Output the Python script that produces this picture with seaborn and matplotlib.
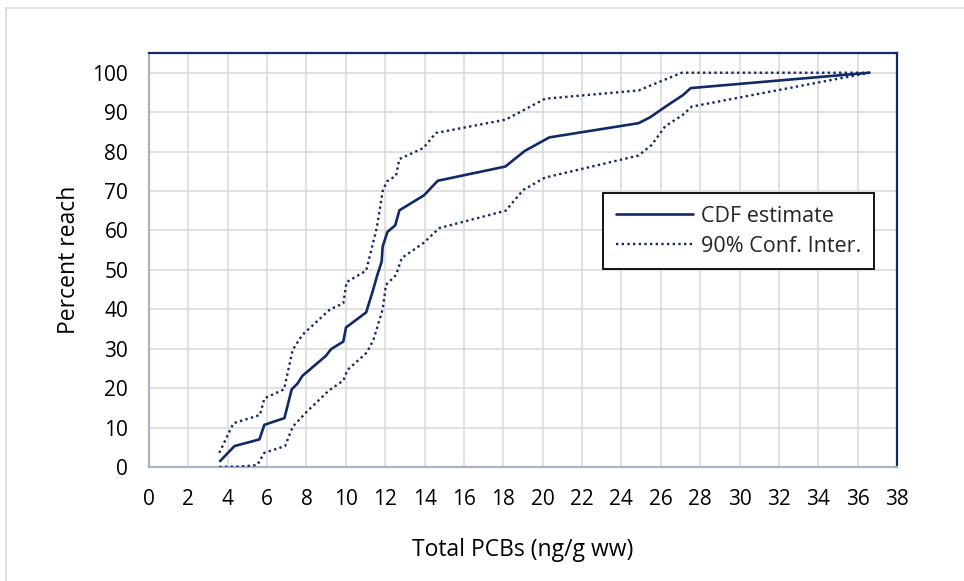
import matplotlib
matplotlib.use("Agg")
import matplotlib.pyplot as plt
import seaborn as sns
import pandas as pd
from matplotlib.lines import Line2D

# ---- data ----
cdf_x = [3.61, 4.34, 5.61, 5.86, 6.88, 7.25, 7.55, 7.79, 8.99, 9.25, 9.87, 10.01,
         11.03, 11.36, 11.6, 11.82, 11.87, 12.11, 12.51, 12.72, 13.97, 14.67,
         18.1, 19.1, 20.34, 24.87, 25.46, 26.3, 27.12, 27.52, 36.6]
cdf_y = [1.5, 5.3, 7.0, 10.7, 12.4, 19.7, 21.2, 23.1, 28.2, 29.9, 31.8, 35.4,
         39.2, 44.5, 48.7, 52.1, 55.9, 59.6, 61.3, 65.1, 68.9, 72.6,
         76.2, 80.2, 83.6, 87.2, 88.7, 91.6, 94.3, 96.1, 100.0]

upper_x = [3.57, 4.29, 5.64, 5.86, 6.86, 7.3, 7.79, 9.2, 9.87, 10.04, 11.03, 11.57,
           11.87, 12.08, 12.55, 12.72, 13.94, 14.57, 18.12, 20.12, 24.87, 27.07, 36.6]
upper_y = [3.6, 11.1, 13.2, 17.4, 19.7, 29.7, 33.5, 40.0, 41.5, 46.9, 49.8, 60.6,
           69.9, 72.4, 73.9, 78.1, 80.9, 84.7, 88.1, 93.4, 95.5, 100.0, 100.0]

lower_x = [3.57, 4.62, 5.5, 5.86, 6.91, 7.3, 8.01, 9.16, 9.87, 10.08, 11.06, 11.4,
           11.87, 12.04, 12.55, 12.84, 13.94, 14.75, 18.12, 19.02, 20.12, 24.87,
           25.54, 26.22, 27.12, 27.57, 36.6]
lower_y = [0.0, 0.1, 0.5, 3.6, 5.3, 10.2, 14.0, 19.5, 21.9, 24.6, 29.0, 32.2,
           40.0, 46.2, 48.7, 53.0, 56.8, 60.6, 65.0, 70.3, 73.4, 79.0,
           81.7, 86.4, 89.3, 91.4, 100.0]

x_ticks = list(range(0, 39, 2))
y_ticks = list(range(0, 101, 10))
series_labels = ["CDF estimate", "90% Conf. Inter."]
x_label = "Total PCBs (ng/g ww)"
y_label = "Percent reach"

# ---- style ----
sns.set_theme(style="white")
plt.rcParams['font.family'] = ['Open Sans', 'DejaVu Sans']

NAVY = "#0f2a66"
AXGRAY = "#a9b2c6"
GRID = "#d9d9d9"
TICK_FS = 15
LABEL_FS = 16.5
LEG_FS = 15.5

fig = plt.figure(figsize=(9.64, 5.81), dpi=100)
ax = fig.add_axes([149/964, 1 - 467/581, (897-149)/964, (467-53)/581])

df_cdf = pd.DataFrame({"x": cdf_x, "y": cdf_y})
df_up = pd.DataFrame({"x": upper_x, "y": upper_y})
df_lo = pd.DataFrame({"x": lower_x, "y": lower_y})

sns.lineplot(data=df_cdf, x="x", y="y", ax=ax, sort=False, color=NAVY,
             linewidth=1.9, label=series_labels[0], zorder=3)
sns.lineplot(data=df_up, x="x", y="y", ax=ax, sort=False, color=NAVY,
             linewidth=1.7, linestyle=(0, (1, 1.4)), label=series_labels[1], zorder=3)
sns.lineplot(data=df_lo, x="x", y="y", ax=ax, sort=False, color=NAVY,
             linewidth=1.7, linestyle=(0, (1, 1.4)), label="_nolegend_", zorder=3)

ax.set_xlim(0, 38)
ax.set_ylim(0, 105)
ax.set_xticks(x_ticks)
ax.set_yticks(y_ticks)
ax.set_xticklabels([str(v) for v in x_ticks])
ax.set_yticklabels([str(v) for v in y_ticks])

ax.grid(True, color=GRID, linewidth=1.1, zorder=0)
ax.set_axisbelow(True)

for side in ["top", "right"]:
    ax.spines[side].set_visible(True)
    ax.spines[side].set_color(NAVY)
    ax.spines[side].set_linewidth(1.6)
for side in ["left", "bottom"]:
    ax.spines[side].set_visible(True)
    ax.spines[side].set_color(AXGRAY)
    ax.spines[side].set_linewidth(1.6)

ax.tick_params(axis="both", which="major", direction="out", length=6,
               width=1.0, color="#b8b8b8", labelsize=TICK_FS, labelcolor="black")
ax.tick_params(axis="y", pad=9)
ax.tick_params(axis="x", pad=10)

ax.set_xlabel(x_label, fontsize=LABEL_FS, color="black", labelpad=20)
ax.set_ylabel(y_label, fontsize=LABEL_FS, color="black", labelpad=8)

leg = ax.legend(loc="upper left", bbox_to_anchor=((603-149)/748, (467-193)/414),
                frameon=True, fancybox=False, fontsize=LEG_FS, handlelength=3.6,
                borderpad=0.6, labelspacing=0.4, handletextpad=0.35,
                borderaxespad=0)
leg.get_frame().set_edgecolor("black")
leg.get_frame().set_linewidth(1.3)
leg.get_frame().set_facecolor("white")
leg.get_frame().set_alpha(1)
leg.set_zorder(5)

# outer chart frame (left and top edges visible)
fig.add_artist(Line2D([6/964, 6/964], [0, 1 - 8/581], transform=fig.transFigure,
                      color="#d9d9d9", linewidth=1.2))
fig.add_artist(Line2D([6/964, 1], [1 - 8/581, 1 - 8/581], transform=fig.transFigure,
                      color="#d9d9d9", linewidth=1.2))

fig.savefig("out.png", dpi=100)
